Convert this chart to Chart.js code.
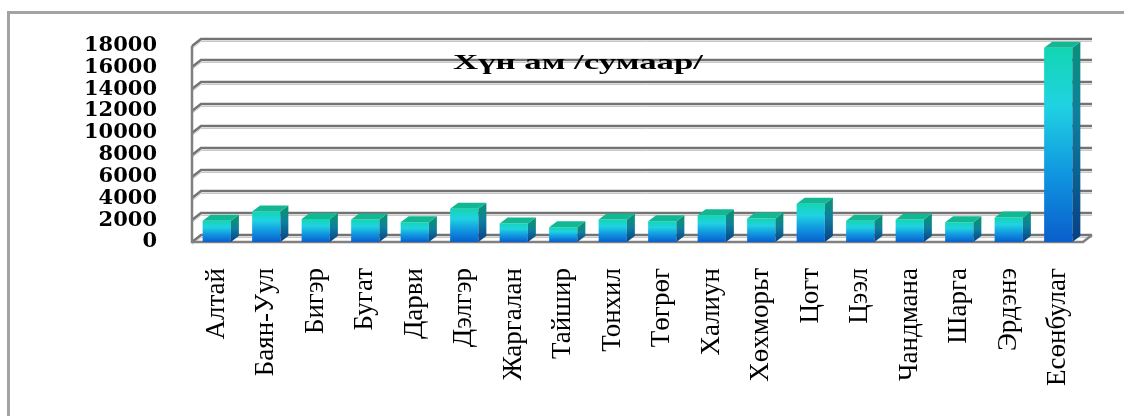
<!DOCTYPE html>
<html>
<head>
<meta charset="utf-8">
<script src="https://cdn.jsdelivr.net/npm/chart.js@4/dist/chart.umd.min.js"></script>
<style>
  html, body { margin: 0; padding: 0; background: #ffffff; overflow: hidden; width: 1124px; height: 416px; }
  #frame { position: absolute; left: 7px; top: 11px; width: 1300px; height: 600px; border: 3px solid #a3a3a3; box-sizing: border-box; }
  #c { position: absolute; left: 0; top: 0; }
</style>
</head>
<body>
<div id="frame"></div>
<canvas id="c" width="1124" height="416"></canvas>
<script>
const chartTitle = 'Хүн ам /сумаар/';
const categories = ['Алтай', 'Баян-Уул', 'Бигэр', 'Бугат', 'Дарви', 'Дэлгэр', 'Жаргалан', 'Тайшир', 'Тонхил', 'Төгрөг', 'Халиун', 'Хөхморьт', 'Цогт', 'Цээл', 'Чандмана', 'Шарга', 'Эрдэнэ', 'Есөнбулаг'];
const population = [1950, 2800, 2100, 2050, 1800, 3050, 1700, 1350, 2050, 1900, 2450, 2150, 3500, 1950, 2050, 1800, 2250, 17800];
const yMin = 0;
const yMax = 18000;
const yStep = 2000;

const GRID_DX = 9, GRID_DY = 7;
const BAR_DX = 8, BAR_DY = 6;

const wallPlugin = {
  id: 'wall3d',
  beforeDatasetsDraw(chart) {
    const ctx = chart.ctx;
    const a = chart.chartArea;
    const ys = chart.scales.y;
    ctx.save();
    ys.ticks.forEach(t => {
      const y = Math.round(ys.getPixelForValue(t.value));
      ctx.strokeStyle = '#c8c8c8';
      ctx.lineWidth = 1;
      ctx.beginPath();
      ctx.moveTo(a.left, y + 2.5);
      ctx.lineTo(a.left + GRID_DX, y - GRID_DY + 2.5);
      ctx.lineTo(a.right + GRID_DX, y - GRID_DY + 2.5);
      ctx.stroke();
      ctx.strokeStyle = '#737373';
      ctx.lineWidth = 2.5;
      ctx.beginPath();
      ctx.moveTo(a.left, y);
      ctx.lineTo(a.left + GRID_DX, y - GRID_DY);
      ctx.lineTo(a.right + GRID_DX, y - GRID_DY);
      ctx.stroke();
    });
    const base = Math.round(ys.getPixelForValue(yMin));
    const top = Math.round(ys.getPixelForValue(yMax));
    ctx.strokeStyle = '#808080';
    ctx.lineWidth = 2.5;
    ctx.beginPath();
    ctx.moveTo(a.left, top);
    ctx.lineTo(a.left, base);
    ctx.lineTo(a.right, base);
    ctx.lineTo(a.right + GRID_DX, base - GRID_DY);
    ctx.stroke();
    ctx.restore();
  },
  afterDatasetsDraw(chart) {
    const ctx = chart.ctx;
    const meta = chart.getDatasetMeta(0);
    ctx.save();
    meta.data.forEach(bar => {
      const p = bar.getProps(['x', 'y', 'base', 'width'], true);
      const l = p.x - p.width / 2, r = p.x + p.width / 2;
      const gs = ctx.createLinearGradient(0, p.y, 0, p.base);
      gs.addColorStop(0, '#0a8f7c');
      gs.addColorStop(0.35, '#0e7f9e');
      gs.addColorStop(1, '#063f86');
      ctx.fillStyle = gs;
      ctx.beginPath();
      ctx.moveTo(r, p.y);
      ctx.lineTo(r + BAR_DX, p.y - BAR_DY);
      ctx.lineTo(r + BAR_DX, p.base - BAR_DY);
      ctx.lineTo(r, p.base);
      ctx.closePath();
      ctx.fill();
      ctx.fillStyle = '#12b894';
      ctx.beginPath();
      ctx.moveTo(l, p.y);
      ctx.lineTo(l + BAR_DX, p.y - BAR_DY);
      ctx.lineTo(r + BAR_DX, p.y - BAR_DY);
      ctx.lineTo(r, p.y);
      ctx.closePath();
      ctx.fill();
    });
    ctx.restore();
  },
  afterDraw(chart) {
    const ctx = chart.ctx;
    ctx.save();
    ctx.font = 'bold 21px Liberation Serif, Times New Roman, serif';
    ctx.fillStyle = '#000000';
    ctx.textBaseline = 'alphabetic';
    const w = ctx.measureText(chartTitle).width;
    const targetW = 250;
    const cx = 578;
    ctx.translate(cx - targetW / 2, 69);
    ctx.scale(targetW / w, 1);
    ctx.fillText(chartTitle, 0, 0);
    ctx.restore();
  }
};

function frontGradient(c) {
  const chart = c.chart;
  if (!chart.chartArea || c.type !== 'data') return '#18a8e0';
  const ys = chart.scales.y;
  const top = ys.getPixelForValue(c.raw);
  const bot = ys.getPixelForValue(0);
  const g = chart.ctx.createLinearGradient(0, top, 0, bot);
  g.addColorStop(0, '#12d6b2');
  g.addColorStop(0.3, '#20d2e2');
  g.addColorStop(0.65, '#1096e0');
  g.addColorStop(1, '#0a5ecc');
  return g;
}

new Chart(document.getElementById('c'), {
  type: 'bar',
  data: {
    labels: categories,
    datasets: [{
      data: population,
      backgroundColor: frontGradient,
      borderWidth: 0,
      barPercentage: 0.57,
      categoryPercentage: 1.0
    }]
  },
  plugins: [wallPlugin],
  options: {
    responsive: false,
    animation: false,
    devicePixelRatio: 1,
    layout: { padding: { top: 40.5, right: 41, left: 0, bottom: 0 } },
    plugins: { legend: { display: false }, title: { display: false }, tooltip: { enabled: false } },
    scales: {
      x: {
        type: 'category',
        offset: true,
        grid: { display: false, drawTicks: false },
        border: { display: false },
        ticks: { autoSkip: false, maxRotation: 90, minRotation: 90, padding: 26, color: '#000000',
          font: { family: 'Liberation Serif, Times New Roman, serif', size: 27 } },
        afterFit(scale) { scale.height = 174; }
      },
      y: {
        min: yMin, max: yMax,
        grid: { display: false, drawTicks: false },
        border: { display: false },
        ticks: { autoSkip: false, stepSize: yStep, padding: 35, color: '#000000',
          font: { family: 'DejaVu Serif', size: 21, weight: 'bold', lineHeight: 1 },
          callback: (v) => String(v) },
        afterFit(scale) { scale.width = 192; }
      }
    }
  }
});
</script>
</body>
</html>
